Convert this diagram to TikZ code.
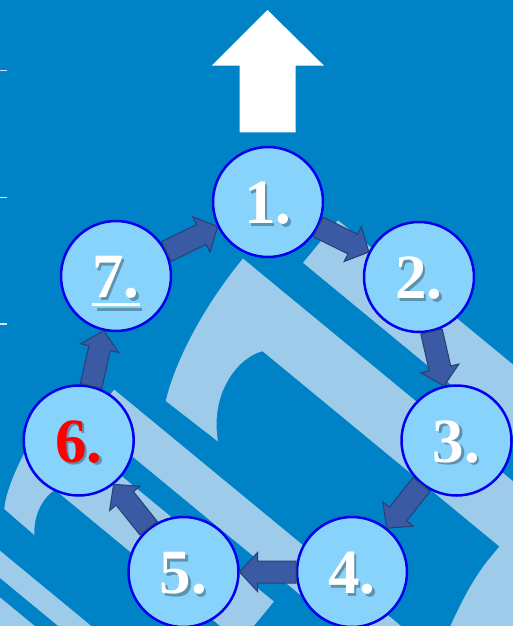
\documentclass[tikz,border=0pt]{standalone}
\usepackage{fontspec}
\setmainfont{Liberation Serif}
\usetikzlibrary{calc}
\definecolor{bgblue}{RGB}{0,131,198}
\definecolor{patlight}{RGB}{157,203,233}
\definecolor{circfill}{RGB}{135,211,251}
\definecolor{circline}{RGB}{0,0,240}
\definecolor{arrfill}{RGB}{59,90,164}
\definecolor{arrline}{RGB}{42,62,115}
\definecolor{tickcol}{RGB}{215,228,240}
\newcommand{\blockarrow}[2]{%
  \coordinate (ba-p) at ($(#1.center)!56pt!(#2.center)$);
  \coordinate (ba-q) at ($(#2.center)!56pt!(#1.center)$);
  \coordinate (ba-h) at ($(ba-q)!18pt!(ba-p)$);
  \filldraw[blockarr] ($(ba-p)!11pt!90:(ba-q)$) -- ($(ba-h)!11pt!-90:(ba-p)$) -- ($(ba-h)!19.5pt!-90:(ba-p)$) -- (ba-q) -- ($(ba-h)!19.5pt!90:(ba-p)$) -- ($(ba-h)!11pt!90:(ba-p)$) -- ($(ba-p)!11pt!-90:(ba-q)$) -- cycle;
}
\newcommand{\steplabel}[3]{% circle name, text, colour
  \node[numshadow] (s#1) at ([xshift=2.5pt,yshift=-24pt]#1.center) {#2};
  \node[numtext, text=#3] (t#1) at ([yshift=-21.5pt]#1.center) {#2};
}
\begin{document}
\begin{tikzpicture}[x=1pt,y=1pt,
  stepcirc/.style={circle, draw=circline, line width=2.5pt, fill=circfill, minimum size=110pt, inner sep=0pt},
  numtext/.style={anchor=base, inner sep=0pt, text=white, font=\fontsize{63}{63}\selectfont\bfseries},
  numshadow/.style={anchor=base, inner sep=0pt, text=black, text opacity=0.3, font=\fontsize{63}{63}\selectfont\bfseries},
  blockarr/.style={fill=arrfill, draw=arrline, line width=1pt, line join=miter},
  patshape/.style={fill=patlight},
  tickline/.style={draw=tickcol, line width=1.5pt}]
\useasboundingbox (0,0) rectangle (513,-626);
\fill[bgblue] (0,0) rectangle (513,-626);
% background pattern
\begin{scope}
\clip (0,0) rectangle (513,-626);
\begin{scope}[rotate=-39.5]
  % upper stripe
  \fill[patshape] (401,-10) -- (1100,-10) -- (1100,45) -- (401,45) -- cycle;
  % big hook
  \fill[patshape] (352,-45) -- (1100,-45) -- (1100,-700) -- (780,-700) -- (762,-260)
     .. controls (745,-190) and (735,-165) .. (733,-125) -- (733,-104) -- (426,-104)
     .. controls (412,-122) and (410,-168) .. (449,-202) -- (383,-204)
     .. controls (366,-170) and (352,-110) .. (352,-45) -- cycle;
  % middle stripe
  \fill[patshape] (336,-228) -- (1100,-228) -- (1100,-268) -- (336,-268) -- cycle;
  % small hook
  \fill[patshape] (300,-290) -- (594,-290) -- (594,-343) -- (354,-343)
     .. controls (350,-355) and (352,-375) .. (367,-391) -- (327,-390)
     .. controls (312,-368) and (303,-320) .. (300,-290) -- cycle;
  % lower stripes
  \fill[patshape] (200,-446) -- (700,-446) -- (700,-425) -- (200,-425) -- cycle;
  \fill[patshape] (200,-540) -- (700,-540) -- (700,-461) -- (200,-461) -- cycle;
\end{scope}
\end{scope}
% left ticks
\draw[tickline] (0,-70.5) -- (7,-70.5);
\draw[tickline] (0,-197.3) -- (7,-197.3);
\draw[tickline] (0,-324) -- (7,-324);
% white up arrow
\fill[white] (239.7,-132.3) -- (239.7,-65.7) -- (211.7,-65.7) -- (267.5,-10) -- (324,-65.7) -- (295.7,-65.7) -- (295.7,-132.3) -- cycle;
% circles
\node[stepcirc] (n1) at (268,-202) {};
\node[stepcirc] (n2) at (419,-277) {};
\node[stepcirc] (n3) at (456.5,-440.5) {};
\node[stepcirc] (n4) at (352,-572) {};
\node[stepcirc] (n5) at (183.5,-572) {};
\node[stepcirc] (n6) at (78.7,-440.5) {};
\node[stepcirc] (n7) at (116,-276) {};
% block arrows
\blockarrow{n7}{n1}
\blockarrow{n1}{n2}
\blockarrow{n2}{n3}
\blockarrow{n3}{n4}
\blockarrow{n4}{n5}
\blockarrow{n5}{n6}
\blockarrow{n6}{n7}
% labels
\steplabel{n1}{1.}{white}
\steplabel{n2}{2.}{white}
\steplabel{n3}{3.}{white}
\steplabel{n4}{4.}{white}
\steplabel{n5}{5.}{white}
\steplabel{n6}{6.}{red}
\steplabel{n7}{7.}{white}
\draw[black, opacity=0.3, line width=3pt] ([xshift=2.5pt,yshift=-9.5pt]sn7.base west) -- ([xshift=0pt,yshift=-9.5pt]sn7.base east);
\draw[white, line width=3pt] ([yshift=-7pt]tn7.base west) -- ([yshift=-7pt]tn7.base east);
\end{tikzpicture}
\end{document}
